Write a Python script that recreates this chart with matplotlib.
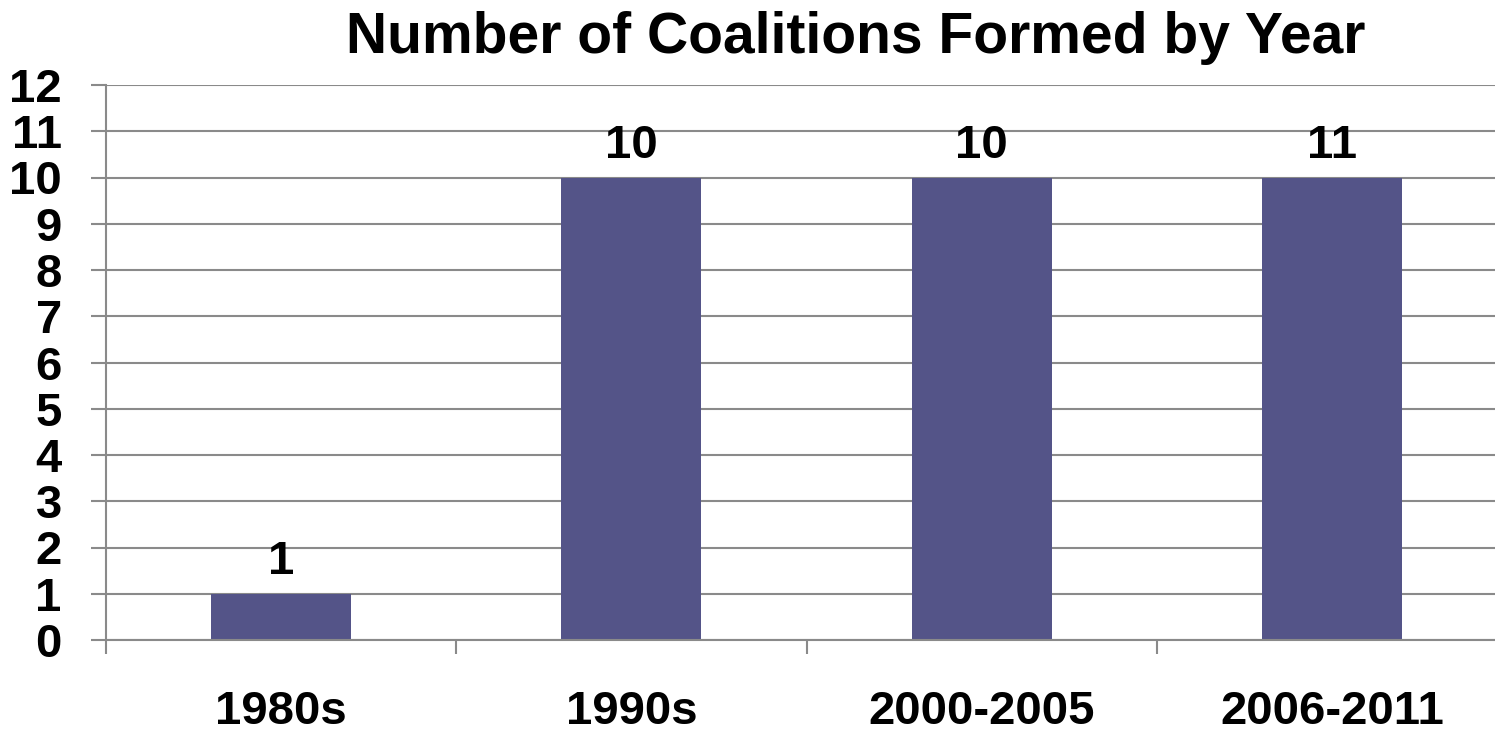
import matplotlib.pyplot as plt
import numpy as np

plt.rcParams['font.family'] = ['Liberation Sans', 'DejaVu Sans']
plt.rcParams['font.weight'] = 'bold'

categories = ['1980s', '1990s', '2000-2005', '2006-2011']
bar_heights = [1, 10, 10, 10]
bar_labels = ['1', '10', '10', '11']
y_ticks = list(range(0, 13))

grid_col = '#8a8a8a'
bar_col = '#545488'

fig = plt.figure(figsize=(14.95, 7.32), dpi=100)
W, H = 1495, 732
ax = fig.add_axes([106 / W, 1 - 640 / H, (1507 - 106) / W, (640 - 85) / H])

x = np.arange(len(categories))
bars = ax.bar(x, bar_heights, width=0.4, color=bar_col, zorder=3)

for xi, h, lab in zip(x, bar_heights, bar_labels):
    ax.annotate(lab, (xi, h), xytext=(0, 7), textcoords='offset points',
                ha='center', va='bottom', fontsize=34, fontweight='bold')

ax.set_xlim(-0.5, len(categories) - 0.5)
ax.set_ylim(0, 12)
ax.set_yticks(y_ticks)
ax.set_yticklabels([str(t) for t in y_ticks], fontsize=34, fontweight='bold')
ax.set_xticks(x)
ax.set_xticklabels(categories, fontsize=34, fontweight='bold')
ax.set_xticks(np.arange(-0.5, len(categories)), minor=True)

ax.tick_params(axis='y', length=10.8, width=1.5, color=grid_col, pad=21)
ax.tick_params(axis='x', which='major', length=0, pad=36)
ax.tick_params(axis='x', which='minor', length=10, width=1.5, color=grid_col)

ax.yaxis.grid(True, color=grid_col, linewidth=1.5, zorder=0)
ax.set_axisbelow(True)
for s in ['top', 'right']:
    ax.spines[s].set_visible(False)
for s in ['left', 'bottom']:
    ax.spines[s].set_color(grid_col)
    ax.spines[s].set_linewidth(1.5)
ax.spines['bottom'].set_zorder(4)

fig.text(855.5 / W, 1 - 53 / H, 'Number of Coalitions Formed by Year',
         ha='center', va='baseline', fontsize=41, fontweight='bold')

fig.savefig('out.png', dpi=100)
